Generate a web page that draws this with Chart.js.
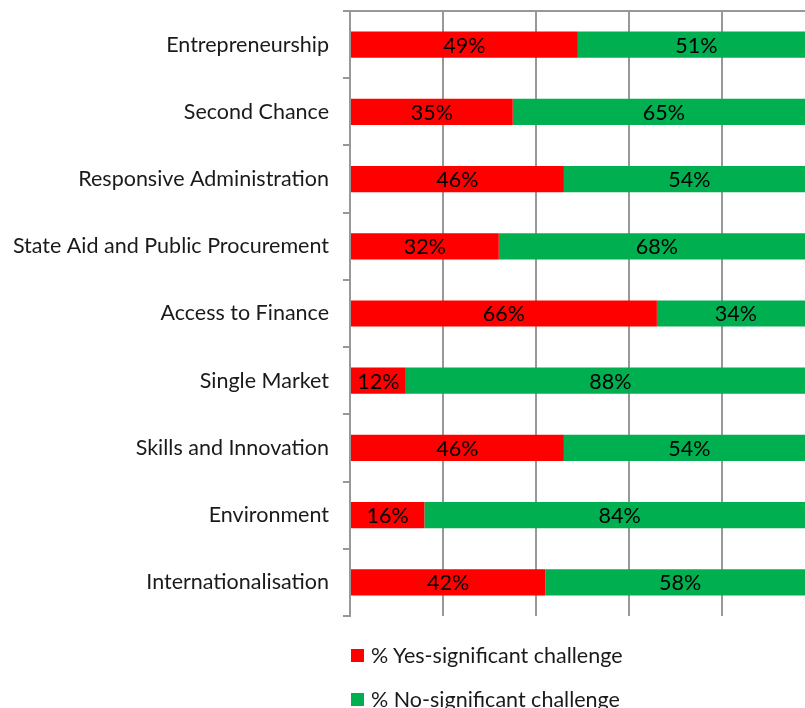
<!DOCTYPE html>
<html>
<head>
<meta charset="utf-8">
<script src="https://cdn.jsdelivr.net/npm/chart.js@4/dist/chart.umd.min.js"></script>
<style>
  html, body { margin: 0; padding: 0; background: #fff; overflow: hidden; }
  #wrap { position: relative; width: 815px; height: 708px; }
  #leyenda { position: absolute; left: 351px; top: 642px; font-family: Lato, sans-serif; font-size: 21.5px; color: #1a1a1a; }
  #leyenda div { display: flex; align-items: center; height: 26px; margin-bottom: 18px; }
  #leyenda span.caja { display: inline-block; width: 13px; height: 13px; margin-right: 7px; }
</style>
</head>
<body>
<div id="wrap">
  <canvas id="grafico"></canvas>
  <div id="leyenda"></div>
</div>
<script>
// datos
const categorias = [
    'Entrepreneurship',
    'Second Chance',
    'Responsive Administration',
    'State Aid and Public Procurement',
    'Access to Finance',
    'Single Market',
    'Skills and Innovation',
    'Environment',
    'Internationalisation'
];
const valoresSi = [49, 35, 46, 32, 66, 12, 46, 16, 42];
const valoresNo = [51, 65, 54, 68, 34, 88, 54, 84, 58];
const etiquetasSeries = ['% Yes-significant challenge', '% No-significant challenge'];
const coloresSeries = ['#ff0000', '#00b050'];

const fuente = { family: 'Lato, sans-serif', size: 21.5 };

// plugin sencillo para escribir el porcentaje dentro de cada barra
const etiquetasBarras = {
    id: 'etiquetasBarras',
    afterDatasetsDraw(chart) {
        const ctx = chart.ctx;
        ctx.save();
        ctx.font = fuente.size + 'px ' + fuente.family;
        ctx.fillStyle = '#000';
        ctx.textAlign = 'center';
        ctx.textBaseline = 'middle';
        chart.data.datasets.forEach((ds, i) => {
            chart.getDatasetMeta(i).data.forEach((barra, j) => {
                const cx = (barra.x + barra.base) / 2;
                ctx.fillText(ds.data[j] + '%', cx, barra.y + 1);
            });
        });
        ctx.restore();
    }
};

const ctx = document.getElementById('grafico').getContext('2d');
const grafico = new Chart(ctx, {
    type: 'bar',
    data: {
        labels: categorias,
        datasets: [
            { label: etiquetasSeries[0], data: valoresSi, backgroundColor: coloresSeries[0] },
            { label: etiquetasSeries[1], data: valoresNo, backgroundColor: coloresSeries[1] }
        ]
    },
    options: {
        indexAxis: 'y',
        responsive: true,
        maintainAspectRatio: false,
        animation: false,
        categoryPercentage: 1,
        barPercentage: 0.39,
        layout: { padding: { top: 0, right: 0, bottom: 92, left: 0 } },
        scales: {
            x: {
                position: 'top',
                stacked: true,
                min: 0,
                max: 100,
                ticks: { display: false, stepSize: 20 },
                grid: { color: '#989898', lineWidth: 2, drawTicks: false },
                border: { display: true, color: '#989898', width: 2 },
                afterFit(s) { s.height = 11; s.paddingLeft = 0; s.paddingRight = 0; }
            },
            y: {
                stacked: true,
                ticks: { color: '#1a1a1a', font: fuente, padding: 14 },
                grid: { offset: true, drawOnChartArea: false, drawTicks: true, tickLength: 7, color: '#989898', lineWidth: 2 },
                border: { display: true, color: '#989898', width: 2 },
                afterFit(s) { s.width = 350; s.paddingTop = 0; s.paddingBottom = 0; }
            }
        },
        plugins: {
            legend: { display: false },
            tooltip: { enabled: false }
        }
    },
    plugins: [etiquetasBarras]
});

// leyenda en HTML debajo del grafico
const leyenda = document.getElementById('leyenda');
etiquetasSeries.forEach((texto, i) => {
    const fila = document.createElement('div');
    fila.innerHTML = '<span class="caja" style="background:' + coloresSeries[i] + '"></span>' + texto;
    leyenda.appendChild(fila);
});
</script>
</body>
</html>
